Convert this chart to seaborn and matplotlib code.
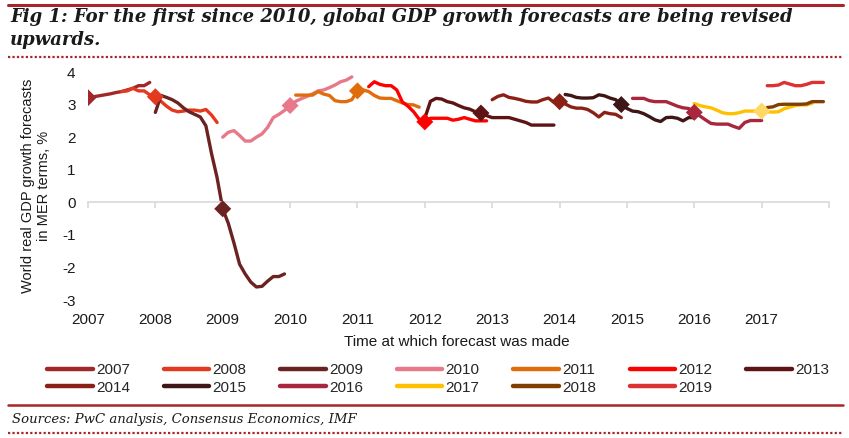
import numpy as np
import pandas as pd
import matplotlib
matplotlib.use('Agg')
import matplotlib.pyplot as plt
from matplotlib.lines import Line2D
import seaborn as sns

# Forecast vintages: target year, first month the forecast appears (months since Jan 2007)
years = [2007, 2008, 2009, 2010, 2011, 2012, 2013, 2014, 2015, 2016, 2017, 2018, 2019]
start_month = [0, 6, 12, 24, 37, 50, 60, 72, 85, 97, 108, 121, 121]
# month of the diamond marker (roughly January of the target year)
diamond_month = [0, 12, 24, 36, 48, 60, 70, 84, 95, 108, 120]

# monthly forecast values (%)
fc2007 = [3.21, 3.24, 3.27, 3.30, 3.33, 3.37, 3.40, 3.45, 3.50, 3.58, 3.58, 3.68]
fc2008 = [3.40, 3.42, 3.50, 3.42, 3.42, 3.30, 3.24, 3.10, 2.95, 2.83, 2.78, 2.80,
          2.83, 2.83, 2.80, 2.85, 2.68, 2.45]
fc2009 = [2.76, 3.28, 3.22, 3.15, 3.05, 2.90, 2.78, 2.70, 2.62, 2.35, 1.50, 0.75,
          -0.20, -0.65, -1.25, -1.90, -2.20, -2.45, -2.60, -2.58, -2.42, -2.28, -2.28, -2.20]
fc2010 = [2.00, 2.15, 2.20, 2.05, 1.88, 1.88, 2.00, 2.10, 2.30, 2.60, 2.70, 2.82,
          2.97, 3.10, 3.18, 3.25, 3.33, 3.42, 3.45, 3.52, 3.60, 3.70, 3.75, 3.85]
fc2011 = [3.29, 3.29, 3.29, 3.29, 3.40, 3.32, 3.28, 3.12, 3.09, 3.09, 3.15, 3.42,
          3.45, 3.40, 3.28, 3.20, 3.19, 3.19, 3.12, 3.05, 3.00, 2.99, 2.92]
fc2012 = [3.55, 3.70, 3.62, 3.58, 3.58, 3.45, 3.08, 2.95, 2.78, 2.55, 2.47, 2.58,
          2.58, 2.58, 2.58, 2.52, 2.55, 2.60, 2.55, 2.50, 2.50, 2.50]
fc2013 = [2.58, 3.10, 3.19, 3.17, 3.09, 3.05, 2.97, 2.90, 2.86, 2.78, 2.74, 2.66,
          2.60, 2.60, 2.60, 2.60, 2.55, 2.50, 2.45, 2.37, 2.37, 2.37, 2.37, 2.37]
fc2014 = [3.15, 3.25, 3.30, 3.22, 3.19, 3.15, 3.10, 3.08, 3.08, 3.15, 3.20, 3.07,
          3.09, 3.02, 2.93, 2.89, 2.89, 2.85, 2.75, 2.62, 2.76, 2.72, 2.70, 2.60]
fc2015 = [3.31, 3.28, 3.22, 3.20, 3.20, 3.21, 3.30, 3.27, 3.20, 3.15, 3.00, 2.88,
          2.80, 2.78, 2.72, 2.63, 2.53, 2.48, 2.60, 2.61, 2.58, 2.50, 2.60, 2.60]
fc2016 = [3.19, 3.19, 3.19, 3.12, 3.09, 3.09, 3.09, 3.02, 2.95, 2.90, 2.88, 2.76,
          2.65, 2.53, 2.42, 2.40, 2.40, 2.40, 2.33, 2.27, 2.45, 2.51, 2.51, 2.51]
fc2017 = [3.03, 2.97, 2.93, 2.90, 2.83, 2.75, 2.72, 2.72, 2.75, 2.80, 2.80, 2.80,
          2.80, 2.78, 2.77, 2.78, 2.87, 2.92, 2.97, 2.99, 2.99, 3.04]
fc2018 = [2.91, 2.93, 3.00, 3.01, 3.01, 3.01, 3.01, 3.02, 3.09, 3.09, 3.09]
fc2019 = [3.58, 3.58, 3.60, 3.68, 3.63, 3.58, 3.58, 3.62, 3.68, 3.68, 3.68]

series = [fc2007, fc2008, fc2009, fc2010, fc2011, fc2012, fc2013,
          fc2014, fc2015, fc2016, fc2017, fc2018, fc2019]

colors = ['#A0282B', '#E2391F', '#6B2322', '#E8798B', '#E06D0C', '#FF0000', '#5E1414',
          '#8B2116', '#3E1616', '#A8263E', '#FFC000', '#7F3F02', '#DC3232']
diamond_colors = colors[:10] + ['#FFD966']

RED = '#A6262A'

# long table for seaborn
rows = []
for yr, st, vals in zip(years, start_month, series):
    for i, v in enumerate(vals):
        rows.append((str(yr), 2007 + (st + i) / 12, v))
df = pd.DataFrame(rows, columns=['year', 't', 'value'])

drows = []
for yr, dm, st, vals in zip(years, diamond_month, start_month, series):
    drows.append((str(yr), 2007 + dm / 12, vals[dm - st]))
dia = pd.DataFrame(drows, columns=['year', 't', 'value'])

palette = {str(y): c for y, c in zip(years, colors)}
dpalette = {str(y): c for y, c in zip(years, diamond_colors)}

sns.set_theme(style='white')
plt.rcParams['font.family'] = ['Liberation Sans', 'DejaVu Sans']
plt.rcParams['axes.unicode_minus'] = False

fig = plt.figure(figsize=(8.49, 4.38), dpi=100)
ax = fig.add_axes([88 / 849, 1 - 300 / 438, (829 - 88) / 849, (300 - 72) / 438])

sns.lineplot(data=df, x='t', y='value', hue='year', palette=palette, linewidth=2.4,
             estimator=None, ax=ax)
sns.scatterplot(data=dia, x='t', y='value', hue='year', palette=dpalette, marker='D',
                s=75, edgecolor='none', legend=False, ax=ax, zorder=4)

handles, labels = ax.get_legend_handles_labels()
ax.get_legend().remove()

ax.set_xlim(2007, 2018)
ax.set_ylim(-3, 4)
ax.set_yticks(range(-3, 5))
ax.set_xticks(range(2007, 2019))
ax.set_xlabel('')
ax.set_ylabel('')
for s in ['left', 'right', 'top']:
    ax.spines[s].set_visible(False)
ax.spines['bottom'].set_position(('data', 0))
ax.spines['bottom'].set_color('#D9D9D9')
ax.spines['bottom'].set_linewidth(1.2)
ax.tick_params(axis='x', direction='out', length=4, width=1.2, color='#D9D9D9',
               labelbottom=False, bottom=True)
ax.tick_params(axis='y', length=0, pad=9, labelsize=11, labelcolor='#1a1a1a')

sec = ax.secondary_xaxis('bottom')
sec.set_xticks(range(2007, 2018))
sec.set_xticklabels([str(y) for y in range(2007, 2018)])
sec.tick_params(length=0, pad=9, labelsize=11, labelcolor='#1a1a1a')
sec.spines['bottom'].set_visible(False)

fig.text(457 / 849, 1 - 342 / 438, 'Time at which forecast was made', ha='center',
         va='center', fontsize=11, color='#1a1a1a')
fig.text(36 / 849, 1 - 186 / 438, 'World real GDP growth forecasts\nin MER terms, %',
         rotation=90, ha='center', va='center', fontsize=10.5, linespacing=1.1,
         color='#1a1a1a')

# legend laid out row by row like the original (matplotlib fills columns first)
order = [0, 7, 1, 8, 2, 9, 3, 10, 4, 11, 5, 12, 6]
leg_handles = [Line2D([0], [0], color=colors[i], lw=3.2) for i in order]
leg_labels = [labels[i] for i in order]
fig.legend(leg_handles, leg_labels, ncol=7, loc='center',
           bbox_to_anchor=(438 / 849, 1 - 379 / 438), frameon=False, fontsize=11,
           handlelength=3.0, handletextpad=0.2, columnspacing=2.2, labelspacing=0.2)

# title and frame lines
fig.add_artist(Line2D([8 / 849, 843 / 849], [1 - 5 / 438, 1 - 5 / 438], color=RED, lw=2.2))
fig.text(10 / 849, 1 - 8 / 438,
         'Fig 1: For the first since 2010, global GDP growth forecasts are being revised\nupwards.',
         ha='left', va='top', fontsize=13, fontweight='bold', fontstyle='italic',
         family='DejaVu Serif', color='#1a1a1a', linespacing=1.35)
fig.add_artist(Line2D([8 / 849, 843 / 849], [1 - 57 / 438, 1 - 57 / 438], color=RED,
                      lw=1.6, linestyle=(0, (1, 1))))
fig.add_artist(Line2D([8 / 849, 843 / 849], [1 - 405 / 438, 1 - 405 / 438], color=RED, lw=1.8))
fig.text(12 / 849, 1 - 419 / 438, 'Sources: PwC analysis, Consensus Economics, IMF',
         ha='left', va='center', fontsize=9.5, fontstyle='italic', family='DejaVu Serif',
         color='#1a1a1a')
fig.add_artist(Line2D([8 / 849, 843 / 849], [1 - 433 / 438, 1 - 433 / 438], color=RED,
                      lw=1.6, linestyle=(0, (1, 1))))

fig.savefig('out.png', dpi=100)
